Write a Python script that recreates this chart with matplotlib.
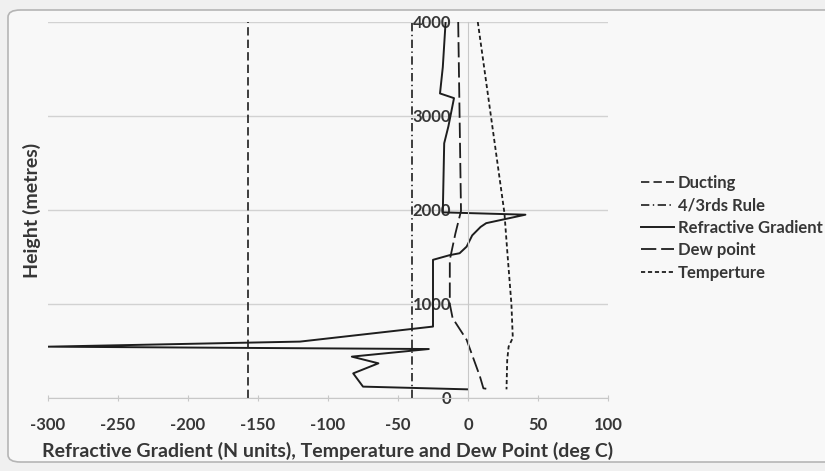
import matplotlib
matplotlib.use('Agg')
import matplotlib.pyplot as plt
from matplotlib.patches import FancyBboxPatch

# data
ducting_x = [-157, -157]
ducting_y = [0, 4000]
rule43_x = [-40, -40]
rule43_y = [0, 4000]
refr_grad = [-16, -18, -20, -10, -14, -17, -18, 41, 13, 9, 3, -1, -6, -13, -25, -25,
             -120, -300, -28, -83, -64, -82, -75, 0]
refr_height = [4000, 3520, 3240, 3190, 2890, 2710, 1975, 1950, 1860, 1820, 1730, 1610,
               1540, 1520, 1470, 760, 600, 546, 521, 440, 369, 262, 121, 92]
dew_x = [-7, -5, -9, -13, -13, -11, -1, 8.5, 11, 16]
dew_y = [4000, 1990, 1750, 1470, 1000, 850, 620, 230, 103, 92]
temp_x = [7, 26, 28, 31, 32, 29, 28, 27.5]
temp_y = [4000, 1970, 1570, 1000, 640, 546, 400, 92]

xticks = [-300, -250, -200, -150, -100, -50, 0, 50, 100]
yticks = [0, 1000, 2000, 3000, 4000]

plt.rcParams['font.family'] = ['Lato', 'DejaVu Sans']
plt.rcParams['axes.unicode_minus'] = False
plt.rcParams['lines.scale_dashes'] = False
txtcol = '#363636'
lcol = '#1e1e1e'

fig = plt.figure(figsize=(8.25, 4.71), dpi=100, facecolor='#f0f0f0')
box = FancyBboxPatch((8 / 825, 9 / 471), 830 / 825, 452 / 471,
                     boxstyle='round,pad=0,rounding_size=0.015',
                     transform=fig.transFigure, facecolor='#f8f8f8',
                     edgecolor='#b5b5b5', lw=1.2, zorder=-10)
fig.add_artist(box)

ax = fig.add_axes([48 / 825, 1 - 398 / 471, 560 / 825, 376 / 471])
ax.patch.set_visible(False)

ax.plot(ducting_x, ducting_y, color=lcol, lw=1.2, ls=(0, (6, 3)), label='Ducting')
ax.plot(rule43_x, rule43_y, color=lcol, lw=1.2, ls=(0, (6, 2.5, 1, 2.5)), label='4/3rds Rule')
ax.plot(refr_grad, refr_height, color=lcol, lw=1.4, label='Refractive Gradient')
ax.plot(dew_x, dew_y, color=lcol, lw=1.3, ls=(0, (11, 3.5)), label='Dew point')
ax.plot(temp_x, temp_y, color=lcol, lw=1.3, ls=(0, (3, 2)), label='Temperture')

ax.set_xlim(-300, 100)
ax.set_ylim(0, 4000)
ax.set_xticks(xticks)
ax.set_yticks(yticks)
ax.grid(axis='y', color='#d2d2d2', lw=1)
ax.set_axisbelow(True)

for s in ['top', 'right']:
    ax.spines[s].set_visible(False)
ax.spines['left'].set_position(('data', 0))
ax.spines['left'].set_color('#c8c8c8')
ax.spines['bottom'].set_color('#c8c8c8')
ax.tick_params(axis='x', direction='inout', length=5, color='#c8c8c8', pad=11.5,
               labelsize=12, labelcolor=txtcol)
ax.tick_params(axis='y', length=0, pad=12, labelsize=12, labelcolor=txtcol)
for lb in ax.get_xticklabels() + ax.get_yticklabels():
    lb.set_fontweight('bold')

ax.set_xlabel('Refractive Gradient (N units), Temperature and Dew Point (deg C)',
              fontsize=14, fontweight='bold', color=txtcol, labelpad=6)
fig.text(32 / 825, 1 - 210 / 471, 'Height (metres)', rotation=90, ha='center', va='center',
         fontsize=14, fontweight='bold', color=txtcol)

leg = ax.legend(loc='center left', bbox_to_anchor=(641 / 825, 1 - 228 / 471),
                bbox_transform=fig.transFigure, frameon=False, fontsize=12,
                borderaxespad=0, borderpad=0,
                handlelength=2.0, handletextpad=0.2, labelspacing=0.38)
for t in leg.get_texts():
    t.set_fontweight('bold')
    t.set_color(txtcol)

plt.savefig('out.png', dpi=100, facecolor=fig.get_facecolor())
